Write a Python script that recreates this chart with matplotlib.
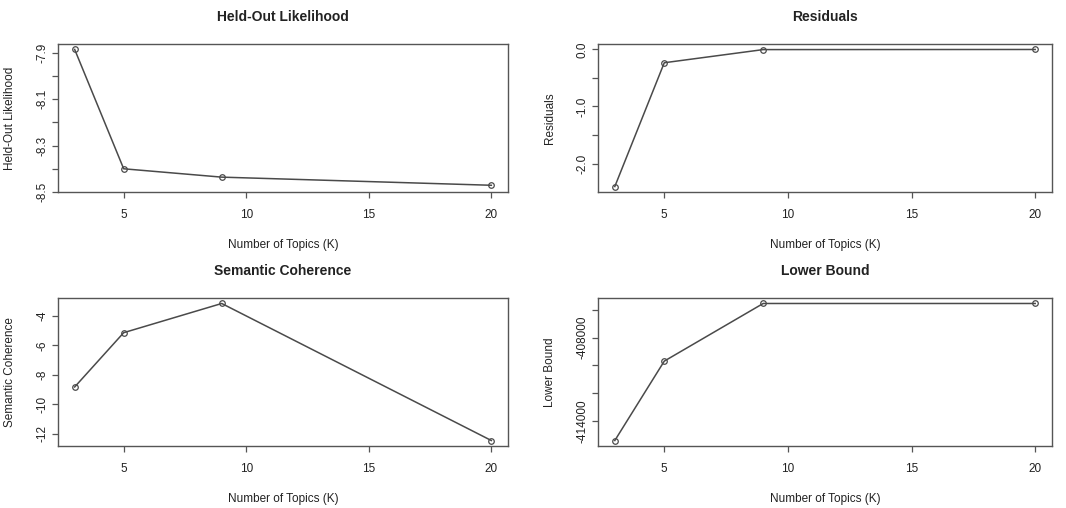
import matplotlib
matplotlib.use("Agg")
import matplotlib.pyplot as plt

plt.rcParams['font.family'] = ['Liberation Sans', 'DejaVu Sans']

# searchK diagnostics
topics_k = [3, 5, 9, 20]
heldout = [-7.886, -8.40, -8.436, -8.471]
residuals = [-2.40, -0.235, -0.005, -0.003]
semcoh = [-8.82, -5.14, -3.16, -12.45]
lbound = [-415420, -409690, -405530, -405530]

panels = [
    ("Held-Out Likelihood", "Held-Out Likelihood", heldout,
     [-7.9, -8.0, -8.1, -8.2, -8.3, -8.4, -8.5],
     ["-7.9", "", "-8.1", "", "-8.3", "", "-8.5"]),
    ("Residuals", "Residuals", residuals,
     [0.0, -0.5, -1.0, -1.5, -2.0],
     ["0.0", "", "-1.0", "", "-2.0"]),
    ("Semantic Coherence", "Semantic Coherence", semcoh,
     [-4, -6, -8, -10, -12],
     ["-4", "-6", "-8", "-10", "-12"]),
    ("Lower Bound", "Lower Bound", lbound,
     [-406000, -408000, -410000, -412000, -414000],
     ["", "-408000", "", "", "-414000"]),
]

W, H = 1066, 508
fig = plt.figure(figsize=(W / 100, H / 100), dpi=100)

# pixel boxes: left, top, right, bottom
boxes = [(58, 44, 508, 192), (598, 44, 1052, 192),
         (58, 298, 508, 446), (598, 298, 1052, 446)]

line_col = "#4a4a4a"
frame_col = "#555555"
text_col = "#222222"

for (title, ylab, vals, yt, ytl), (l, t, r, b) in zip(panels, boxes):
    ax = fig.add_axes([l / W, 1 - b / H, (r - l) / W, (b - t) / H])
    ax.plot(topics_k, vals, color=line_col, lw=1.1, marker="o", ms=4,
            mfc="none", mec=line_col, mew=0.9)
    ax.set_xlim(2.32, 20.68)
    lo, hi = min(vals), max(vals)
    pad = (hi - lo) * 0.04
    ax.set_ylim(lo - pad, hi + pad)
    ax.set_xticks([5, 10, 15, 20])
    ax.set_yticks(yt)
    ax.set_yticklabels(ytl)
    for s in ax.spines.values():
        s.set_color(frame_col)
        s.set_linewidth(1.0)
    ax.tick_params(axis="both", direction="out", length=4.5, width=0.9,
                   color=frame_col, labelsize=8.5, labelcolor=text_col)
    ax.tick_params(axis="x", pad=8)
    ax.tick_params(axis="y", pad=2)
    for lab in ax.get_yticklabels():
        lab.set_rotation(90)
        lab.set_va("center")
    cx = (l + r) / 2
    fig.text(cx / W, 1 - (t - 27) / H, title, ha="center", va="center",
             fontsize=10, fontweight="bold", color=text_col)
    fig.text(cx / W, 1 - (b + 53) / H, "Number of Topics (K)", ha="center",
             va="center", fontsize=8.5, color=text_col)
    fig.text((l - 48) / W, 1 - ((t + b) / 2) / H, ylab, ha="center",
             va="center", rotation=90, fontsize=8.5, color=text_col)

fig.savefig("out.png", dpi=100)
